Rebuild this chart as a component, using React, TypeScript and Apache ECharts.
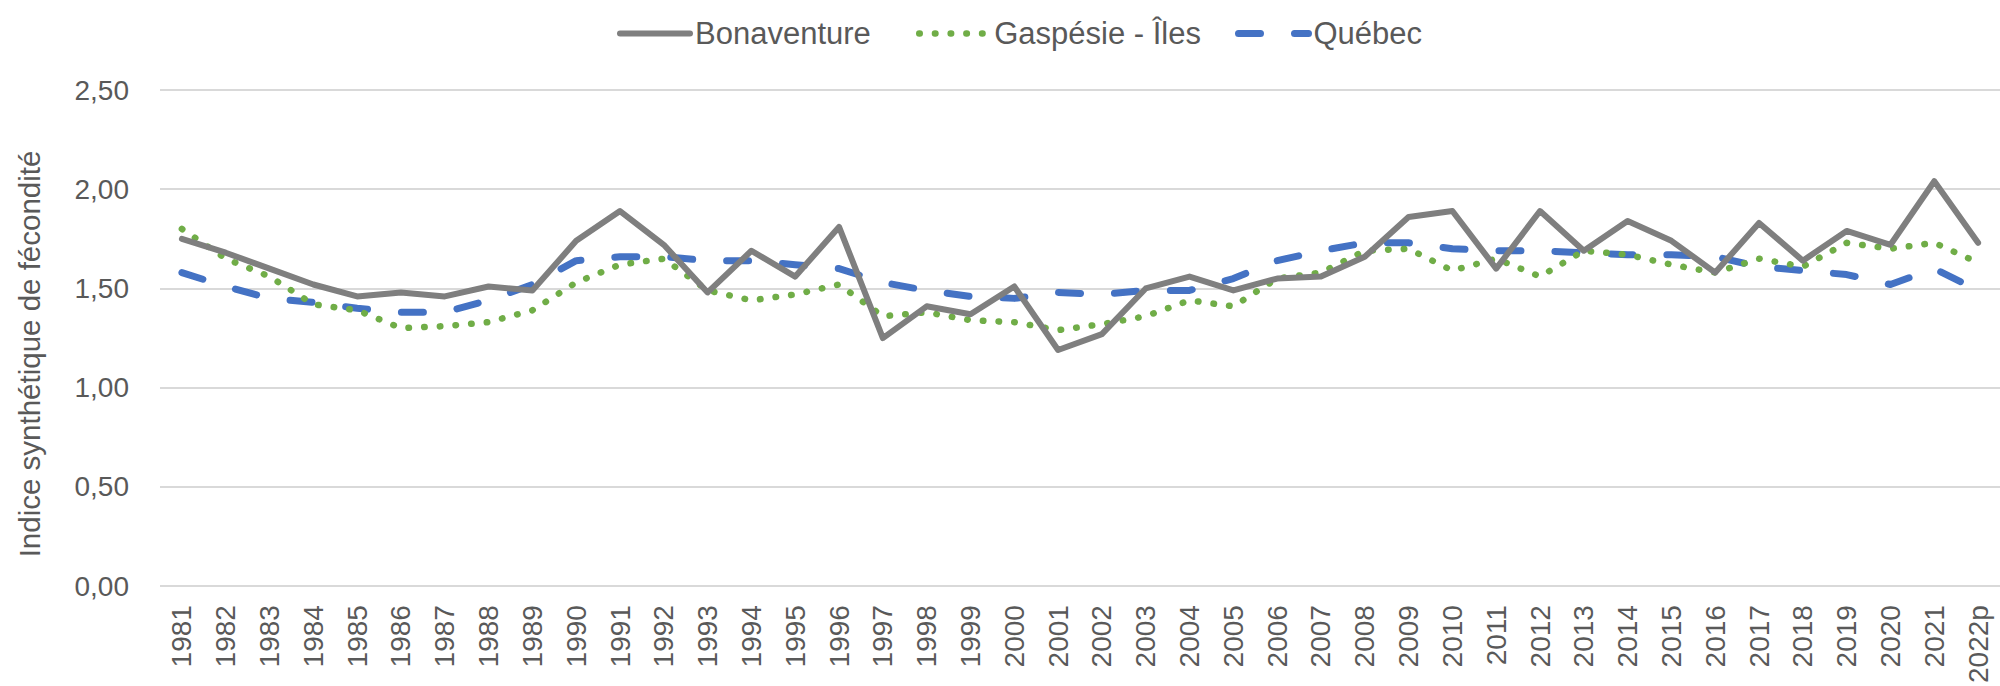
import React, { useEffect, useRef } from "react";
import * as echarts from "echarts";

const years: string[] = [
  "1981", "1982", "1983", "1984", "1985", "1986", "1987", "1988", "1989", "1990",
  "1991", "1992", "1993", "1994", "1995", "1996", "1997", "1998", "1999", "2000",
  "2001", "2002", "2003", "2004", "2005", "2006", "2007", "2008", "2009", "2010",
  "2011", "2012", "2013", "2014", "2015", "2016", "2017", "2018", "2019", "2020",
  "2021", "2022p",
];

const bonaventure: number[] = [
  1.75, 1.68, 1.6, 1.52, 1.46, 1.48, 1.46, 1.51, 1.49, 1.74,
  1.89, 1.72, 1.48, 1.69, 1.56, 1.81, 1.25, 1.41, 1.37, 1.51,
  1.19, 1.27, 1.5, 1.56, 1.49, 1.55, 1.56, 1.66, 1.86, 1.89,
  1.6, 1.89, 1.69, 1.84, 1.74, 1.58, 1.83, 1.64, 1.79, 1.72,
  2.04, 1.73,
];

const gaspesie: number[] = [
  1.8, 1.65, 1.56, 1.42, 1.39, 1.3, 1.31, 1.33, 1.39, 1.53,
  1.62, 1.65, 1.49, 1.44, 1.47, 1.52, 1.36, 1.38, 1.34, 1.33,
  1.29, 1.32, 1.36, 1.44, 1.41, 1.55, 1.58, 1.69, 1.7, 1.59,
  1.65, 1.56, 1.69, 1.67, 1.62, 1.58, 1.65, 1.61, 1.73, 1.7,
  1.73, 1.63,
];

const quebec: number[] = [
  1.58, 1.51, 1.45, 1.43, 1.4, 1.38, 1.38, 1.44, 1.52, 1.64,
  1.66, 1.66, 1.64, 1.64, 1.62, 1.6, 1.53, 1.49, 1.46, 1.45,
  1.48, 1.47, 1.49, 1.49, 1.55, 1.64, 1.69, 1.73, 1.73, 1.7,
  1.69, 1.69, 1.68, 1.67, 1.67, 1.66, 1.61, 1.59, 1.57, 1.52,
  1.6, 1.49,
];

const seriesNames: string[] = ["Bonaventure", "Gaspésie - Îles", "Québec"];
const yTitle = "Indice synthétique de fécondité";

const FONT = "'Liberation Sans', Arial, sans-serif";
const TEXT = "#595959";

const styles = [
  { color: "#7f7f7f", width: 6, type: "solid" as any, cap: "round", join: "round" },
  { color: "#70ad47", width: 6.5, type: [0.5, 15.2], cap: "round", join: "round" },
  { color: "#4472c4", width: 7, type: [22, 34], cap: "round", join: "round" },
];

export default function App() {
  const ref = useRef<HTMLDivElement>(null);

  useEffect(() => {
    if (!ref.current) return;
    const chart = echarts.init(ref.current, null, { renderer: "svg" });

    const legendBase = {
      top: 13,
      itemWidth: 70,
      itemHeight: 14,
      itemGap: 0,
      itemStyle: { opacity: 0, borderWidth: 0 },
      textStyle: { fontSize: 31, color: TEXT, fontFamily: FONT },
    };

    chart.setOption({
      animation: false,
      backgroundColor: "#ffffff",
      textStyle: { fontFamily: FONT },
      legend: [
        { ...legendBase, data: [seriesNames[0]], left: 612, lineStyle: { ...styles[0] } },
        { ...legendBase, data: [seriesNames[1]], left: 911, lineStyle: { ...styles[1] } },
        { ...legendBase, data: [seriesNames[2]], left: 1230, lineStyle: { ...styles[2] } },
      ],
      grid: { left: 160, top: 90, width: 1845, height: 497, containLabel: false },
      xAxis: {
        type: "category",
        data: years,
        boundaryGap: true,
        axisLine: { show: false },
        axisTick: { show: false },
        axisLabel: {
          rotate: 90,
          interval: 0,
          fontSize: 28,
          color: TEXT,
          fontFamily: FONT,
          margin: 19,
        },
      },
      yAxis: {
        type: "value",
        min: 0,
        max: 2.5,
        interval: 0.5,
        axisLine: { show: false },
        axisTick: { show: false },
        splitLine: { lineStyle: { color: "#d9d9d9", width: 2 } },
        axisLabel: {
          fontSize: 28,
          color: TEXT,
          fontFamily: FONT,
          margin: 31,
          formatter: (v: number) => v.toFixed(2).replace(".", ","),
        },
      },
      graphic: [
        {
          type: "text",
          x: 29,
          y: 354,
          rotation: Math.PI / 2,
          style: {
            text: yTitle,
            fontSize: 29.5,
            fontFamily: FONT,
            fill: TEXT,
            textAlign: "center",
            textVerticalAlign: "middle",
          },
        },
      ],
      series: [
        {
          name: seriesNames[0],
          type: "line",
          data: bonaventure,
          symbol: "none",
          z: 3,
          itemStyle: { color: styles[0].color },
          lineStyle: { ...styles[0] },
        },
        {
          name: seriesNames[1],
          type: "line",
          data: gaspesie,
          symbol: "none",
          z: 2,
          itemStyle: { color: styles[1].color },
          lineStyle: { ...styles[1] },
        },
        {
          name: seriesNames[2],
          type: "line",
          data: quebec,
          symbol: "none",
          z: 1,
          itemStyle: { color: styles[2].color },
          lineStyle: { ...styles[2] },
        },
      ],
    });

    return () => chart.dispose();
  }, []);

  return (
    <div
      ref={ref}
      style={{ position: "fixed", left: 0, top: 0, width: 2000, height: 686, background: "#fff" }}
    />
  );
}
